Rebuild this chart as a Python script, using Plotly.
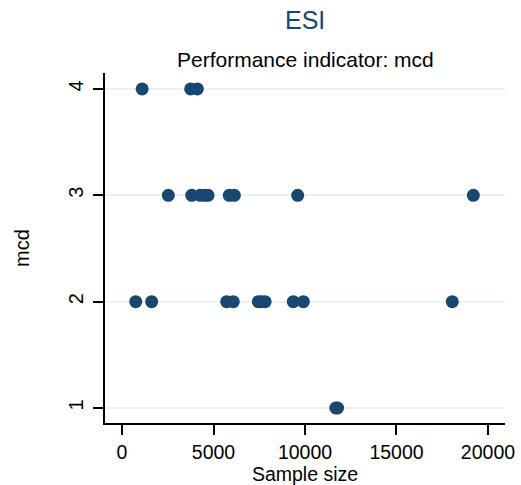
import plotly.graph_objects as go

# Data
sample_size_4 = [1100, 3750, 4120]
sample_size_3 = [2530, 3810, 4260, 4540, 4700, 5860, 6140, 9600, 19200]
sample_size_2 = [750, 1620, 5720, 6080, 7450, 7620, 7820, 9360, 9910, 18050]
sample_size_1 = [11680, 11780]

x_vals = sample_size_4 + sample_size_3 + sample_size_2 + sample_size_1
y_vals = ([4] * len(sample_size_4) + [3] * len(sample_size_3)
          + [2] * len(sample_size_2) + [1] * len(sample_size_1))

x_ticks = [0, 5000, 10000, 15000, 20000]
y_ticks = [1, 2, 3, 4]

navy = "#1a476f"
font_family = "Liberation Sans, Arial, sans-serif"

fig = go.Figure(go.Scatter(
    x=x_vals, y=y_vals, mode="markers",
    marker=dict(color=navy, size=13, line=dict(width=0)),
    showlegend=False,
))

fig.update_layout(
    width=521, height=485,
    margin=dict(l=105, r=16, t=73, b=62),
    paper_bgcolor="white", plot_bgcolor="white",
    font=dict(family=font_family, color="black"),
    annotations=[
        dict(text="ESI", x=0.5, y=1, xref="paper", yref="paper",
             yshift=53, showarrow=False, yanchor="middle",
             font=dict(size=25, color=navy, family=font_family)),
        dict(text="Performance indicator: mcd", x=0.5, y=1, xref="paper",
             yref="paper", yshift=14, showarrow=False, yanchor="middle",
             font=dict(size=21, color="black", family=font_family)),
    ],
)

fig.update_xaxes(
    range=[-930, 20930], tickvals=x_ticks, ticktext=[str(v) for v in x_ticks],
    automargin=False,
    showgrid=False, zeroline=False, showline=True, linecolor="black", linewidth=1.5,
    ticks="outside", ticklen=10, tickwidth=1.5, tickcolor="black",
    tickfont=dict(size=19.5, color="black"), ticklabelstandoff=1,
    title=dict(text="Sample size", font=dict(size=19.5, color="black"), standoff=0),
)
fig.update_yaxes(
    range=[0.859, 4.15], tickvals=y_ticks, ticktext=[str(v) for v in y_ticks],
    automargin=False,
    showgrid=True, gridcolor="#eaf2f3", gridwidth=1.5,
    zeroline=False, showline=True, linecolor="black", linewidth=1.5,
    ticks="outside", ticklen=10, tickwidth=1.5, tickcolor="black",
    tickangle=-90, tickfont=dict(size=20, color="black"), ticklabelstandoff=2,
    title=dict(text="mcd", font=dict(size=20, color="black"), standoff=30),
)

fig.write_html("out.html")
